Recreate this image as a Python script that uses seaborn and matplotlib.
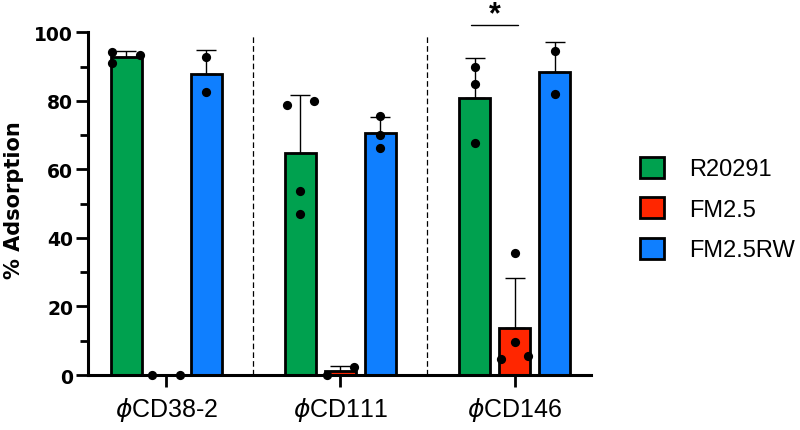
import numpy as np
import pandas as pd
import matplotlib
matplotlib.use("Agg")
import matplotlib.pyplot as plt
from matplotlib.patches import Patch
from matplotlib.ticker import MultipleLocator
import seaborn as sns

# ---------------- data ----------------
phages = ["CD38-2", "CD111", "CD146"]
tick_labels = [r"$\phi$CD38-2", r"$\phi$CD111", r"$\phi$CD146"]
strains = ["R20291", "FM2.5", "FM2.5RW"]
colors = ["#00A14F", "#FF2600", "#0F7FFF"]

# replicate values (% adsorption) per phage, for each strain
r20291 = [[94.2, 93.5, 91.0], [78.8, 79.9, 53.7, 46.9], [90.0, 84.9, 67.7]]
fm25 = [[0.0, 0.0], [0.0, 2.2], [35.5, 9.5, 4.7, 5.6]]
fm25rw = [[92.7, 82.7], [75.7, 69.9, 66.1], [94.6, 82.0]]

y_ticks = [0, 20, 40, 60, 80, 100]
sig_phage, sig_a, sig_b, sig_label = "CD146", "R20291", "FM2.5", "*"
sig_level = 102.2

rows = []
for s, reps in zip(strains, [r20291, fm25, fm25rw]):
    for p, vals in zip(phages, reps):
        for v in vals:
            rows.append((p, s, v))
df = pd.DataFrame(rows, columns=["phage", "strain", "value"])

# ---------------- style ----------------
sns.set_style("ticks")
plt.rcParams["font.family"] = ["Liberation Sans", "DejaVu Sans"]
plt.rcParams["mathtext.fontset"] = "dejavusans"
plt.rcParams["text.color"] = "black"
plt.rcParams["axes.labelcolor"] = "black"
plt.rcParams["xtick.color"] = "black"
plt.rcParams["ytick.color"] = "black"
plt.rcParams["axes.edgecolor"] = "black"

fig = plt.figure(figsize=(8, 4.31), dpi=100)
ax = fig.add_axes([0.11, 0.1276, 0.6284, 0.7951])

WIDTH = 0.689
GAP = 0.222
sns.barplot(data=df, x="phage", y="value", hue="strain", order=phages,
            hue_order=strains, palette=colors, saturation=1, errorbar=None,
            width=WIDTH, gap=GAP, edgecolor="black", linewidth=2.0, ax=ax,
            legend=False, zorder=2)

step = WIDTH / len(strains)
stats = df.groupby(["phage", "strain"])["value"].agg(["mean", "std"]).fillna(0)

def bar_x(i, j):
    return i + (j - (len(strains) - 1) / 2) * step

# error bars (SD, upward only)
for i, p in enumerate(phages):
    for j, s in enumerate(strains):
        m, sd = stats.loc[(p, s), "mean"], stats.loc[(p, s), "std"]
        if sd > 0:
            ax.errorbar(bar_x(i, j), m, yerr=[[0], [sd]], fmt="none",
                        ecolor="black", elinewidth=1.0, capsize=7,
                        capthick=1.0, zorder=3)

# individual points, spread sideways where they would overlap
spread = 0.0787
thr = 3.0
px, py = [], []
for i, p in enumerate(phages):
    for j, s in enumerate(strains):
        vals = df[(df.phage == p) & (df.strain == s)]["value"].to_numpy()
        n = len(vals)
        parent = list(range(n))

        def find(a):
            while parent[a] != a:
                a = parent[a]
            return a
        for a in range(n):
            for b in range(a + 1, n):
                if abs(vals[a] - vals[b]) < thr:
                    parent[find(b)] = find(a)
        groups = {}
        for a in range(n):
            groups.setdefault(find(a), []).append(a)
        xc = bar_x(i, j)
        for members in groups.values():
            if len(members) == 1:
                px.append(xc); py.append(vals[members[0]])
            else:
                for k, a in enumerate(members):
                    px.append(xc + (-spread if k % 2 == 0 else spread))
                    py.append(vals[a])

sns.scatterplot(x=px, y=py, color="black", s=44, linewidth=0, ax=ax,
                zorder=4, clip_on=False, legend=False)

# dashed separators between phage groups
for k in range(len(phages) - 1):
    ax.axvline(k + 0.5, ymin=0, ymax=0.99, color="black", lw=0.9,
               linestyle=(0, (4.5, 2.5)), zorder=1)

# significance annotation
pi = phages.index(sig_phage)
x1 = bar_x(pi, strains.index(sig_a))
x2 = bar_x(pi, strains.index(sig_b))
ax.plot([x1 - 0.02, x2 + 0.02], [sig_level, sig_level], color="black",
        lw=1.0, clip_on=False)
ax.text((x1 + x2) / 2, sig_level + 0.8, sig_label, ha="center",
        va="baseline", fontsize=22, fontweight="bold", clip_on=False)

# axes
ax.set_xlim(-0.449, 2.4375)
ax.set_ylim(0, 100)
ax.set_yticks(y_ticks)
ax.yaxis.set_minor_locator(MultipleLocator(10))
ax.set_xticks(range(len(phages)))
ax.set_xticklabels(tick_labels)
ax.set_xlabel("")
ax.set_ylabel("% Adsorption", fontsize=15, fontweight="bold",
              fontfamily="DejaVu Sans")
ax.yaxis.set_label_coords(-0.128, 0.514)
ax.tick_params(axis="y", which="major", length=8.6, width=2, labelsize=13.5,
               pad=2)
ax.tick_params(axis="y", which="minor", length=5.8, width=2)
ax.tick_params(axis="x", length=8.6, width=2, labelsize=18, pad=6)
for lab in ax.get_yticklabels():
    lab.set_fontfamily("DejaVu Sans")
    lab.set_fontweight("bold")
sns.despine(ax=ax)
for sp in ["left", "bottom"]:
    ax.spines[sp].set_linewidth(2.2)
    ax.spines[sp].set_color("black")

handles = [Patch(facecolor=c, edgecolor="black", linewidth=2) for c in colors]
fig.legend(handles, strains, loc="center left", bbox_to_anchor=(0.8, 0.5128),
           frameon=False, fontsize=17, handlelength=1.0, handleheight=1.0,
           handletextpad=1.1, labelspacing=0.72, borderpad=0,
           borderaxespad=0)

fig.savefig("out.png", dpi=100)
